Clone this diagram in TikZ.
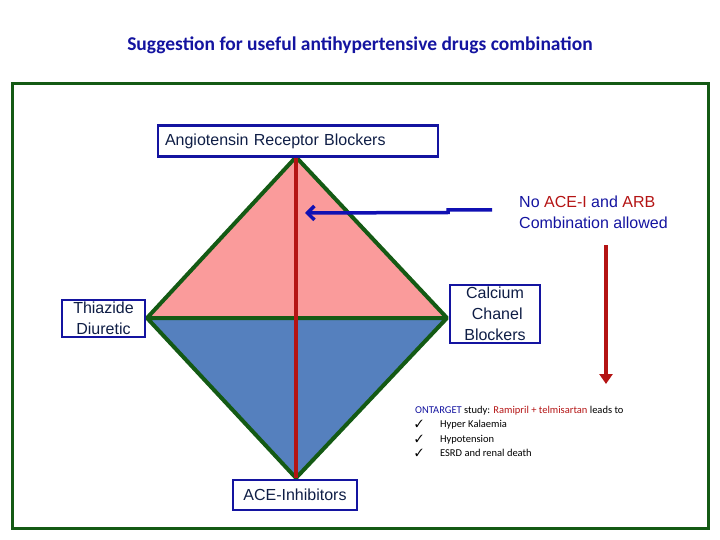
\documentclass[tikz,border=0pt]{standalone}
\usepackage{fontspec}
\setmainfont{Liberation Sans}
\newfontfamily\carl{Carlito}
\usepackage{pifont}
\usetikzlibrary{arrows.meta}
\definecolor{dred}{RGB}{180,20,20}
\definecolor{pinkf}{RGB}{250,155,155}
\definecolor{bluef}{RGB}{85,128,190}
\definecolor{dgreen}{RGB}{20,90,20}
\definecolor{bbox}{RGB}{20,20,160}
\definecolor{btext}{RGB}{15,30,70}
\begin{document}
\begin{tikzpicture}[x=1pt,y=-1pt,
  box/.style={draw=bbox,line width=2.6pt,fill=white,text=btext,font=\fontsize{16}{21}\selectfont,inner sep=3pt,align=center},
  edge/.style={draw=dgreen,line width=4pt,line join=round}]
\useasboundingbox (0,0) rectangle (720,540);
\node[font=\carl\bfseries\fontsize{19.5}{23}\selectfont,text=bbox] (title) at (360,45) {Suggestion for useful antihypertensive drugs combination};
\draw[dgreen,line width=3pt] (12,84) rectangle (708,528);
\coordinate (T) at (296,157); \coordinate (L) at (147,318);
\coordinate (R) at (447,318); \coordinate (B) at (296,478);
\fill[bluef] (L) -- (B) -- (R) -- cycle;
\fill[pinkf] (T) -- (L) -- (R) -- cycle;
\draw[edge] (T) -- (L) -- (B) -- (R) -- cycle (L) -- (R);
\draw[dred,line width=3.5pt] (T) -- (B);
\node[box,minimum width=280pt,minimum height=31pt,text width=266pt,align=left] (arb) at (298,141) {Angiotensin Receptor Blockers};
\node[box,minimum width=83pt,inner sep=2pt] (thz) at (103.5,318.5) {Thiazide\\ Diuretic};
\node[box,minimum width=90pt,inner sep=2pt] (ccb) at (495,314) {Calcium\\ \ Chanel\\Blockers};
\node[box,minimum width=124pt,minimum height=30pt] (ace) at (295,495) {ACE-Inhibitors};
\node[font=\fontsize{16}{21}\selectfont,text=bbox,align=left,anchor=west,inner sep=0pt] (no) at (519,212) {No \textcolor{dred}{ACE-I} and \textcolor{dred}{ARB}\\Combination allowed};
\coordinate (bs) at (492,210);
\coordinate (be) at (305,213);
\draw[bbox!80!blue,line width=3.5pt,-{Straight Barb[length=7pt,width=14pt]}] (bs) -- (448,210) -- (448,212.5) -- (be);
\coordinate (rs) at (606,245); \coordinate (re) at (606,384);
\draw[dred,line width=3.5pt,-{Triangle[length=10pt,width=13pt]}] (rs) -- (re);
\node[font=\carl\fontsize{10.5}{14.5}\selectfont,anchor=north west,align=left,inner sep=0pt] (ont) at (415,406) {\textcolor{bbox}{ONTARGET} study: \textcolor{dred}{Ramipril + telmisartan} leads to\\
\ding{51}\hspace{17pt}Hyper Kalaemia\\
\ding{51}\hspace{17pt}Hypotension\\
\ding{51}\hspace{17pt}ESRD and renal death};
\end{tikzpicture}
\end{document}
